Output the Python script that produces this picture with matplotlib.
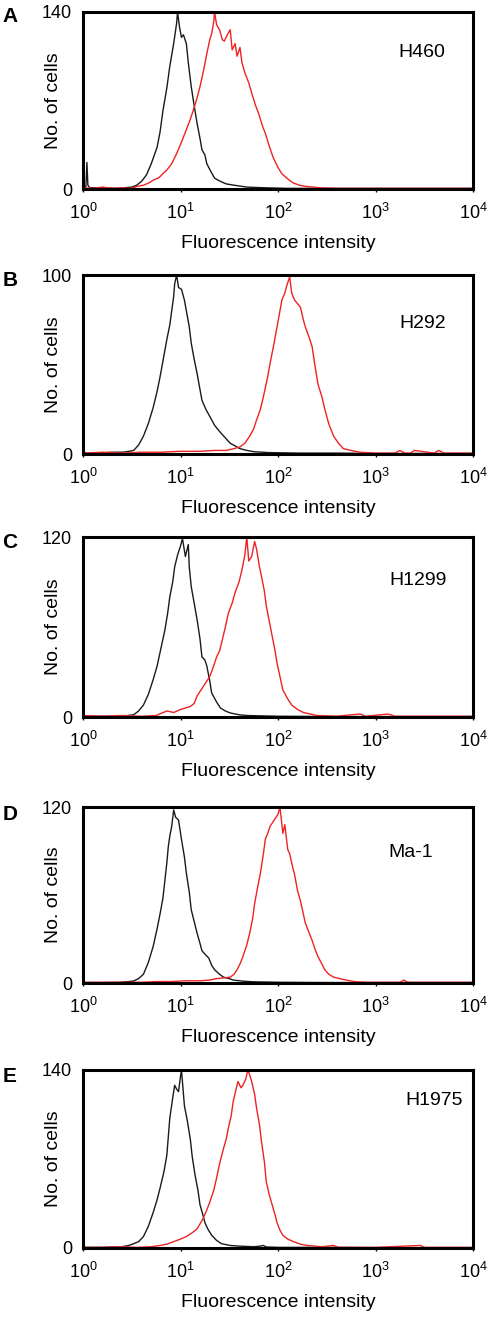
import numpy as np
from matplotlib import pyplot as plt

plt.rcParams['font.family'] = ['Liberation Sans', 'DejaVu Sans']
plt.rcParams['mathtext.fontset'] = 'custom'
plt.rcParams['mathtext.rm'] = 'Liberation Sans'
plt.rcParams['mathtext.it'] = 'Liberation Sans'

# panel info
letters = ['A', 'B', 'C', 'D', 'E']
cell_lines = ['H460', 'H292', 'H1299', 'Ma-1', 'H1975']
y_max = [140, 100, 120, 120, 140]
x_ticks = [1, 10, 100, 1000, 10000]
x_tick_labels = ['$10^{0}$', '$10^{1}$', '$10^{2}$', '$10^{3}$', '$10^{4}$']

# histograms: log10(intensity) and number of cells
# black = control, red = antibody
a_blk_log = [0.0, 0.03, 0.04, 0.05, 0.07, 0.2, 0.35, 0.5, 0.55, 0.6, 0.65, 0.7, 0.76, 0.79, 0.82,
             0.86, 0.89, 0.93, 0.96, 0.97, 0.99, 1.01, 1.03, 1.06, 1.08, 1.11, 1.14, 1.17, 1.2, 1.22,
             1.25, 1.27, 1.31, 1.35, 1.41, 1.47, 1.55, 1.68, 1.85, 2.1, 2.5, 3.0, 3.5, 4.0]
a_blk_cnt = [1, 2, 21, 3, 1, 1, 0.5, 1.5, 3, 6, 11, 20, 33, 45, 62,
             80, 97, 115, 131, 140, 128, 120, 122, 115, 100, 81, 66, 52, 40, 31,
             27, 20, 14, 8.5, 6, 4, 3, 1.5, 1, 0.5, 0.5, 0.5, 0.5, 0.5]
a_red_log = [0.0, 0.1, 0.2, 0.3, 0.4, 0.5, 0.55, 0.62, 0.68, 0.72, 0.78, 0.83, 0.86, 0.91, 0.96,
             1.01, 1.06, 1.1, 1.13, 1.17, 1.2, 1.24, 1.27, 1.3, 1.32, 1.34, 1.35, 1.37, 1.4, 1.43,
             1.45, 1.48, 1.51, 1.53, 1.56, 1.58, 1.61, 1.63, 1.66, 1.7, 1.73, 1.77, 1.8, 1.84, 1.87,
             1.91, 1.95, 2.0, 2.04, 2.1, 2.15, 2.22, 2.29, 2.36, 2.43, 2.6, 3.0, 3.5, 4.0]
a_red_cnt = [1, 0.5, 1.5, 0.5, 1, 0.5, 2, 3, 5, 7, 9, 13, 15, 20, 28,
             37, 47, 55, 62, 72, 81, 95, 107, 118, 123, 132, 140, 130, 126, 118,
             117, 122, 126, 110, 115, 105, 112, 100, 92, 84, 76, 66, 60, 50, 44,
             34, 25, 17, 12, 8, 5, 3, 2, 1.5, 1, 0.5, 0.5, 0.5, 0.5]

b_blk_log = [0.0, 0.15, 0.3, 0.41, 0.47, 0.52, 0.57, 0.62, 0.67, 0.72, 0.76, 0.79, 0.83, 0.86, 0.89,
             0.91, 0.93, 0.94, 0.96, 0.98, 1.01, 1.04, 1.06, 1.09, 1.11, 1.14, 1.17, 1.2, 1.22, 1.26,
             1.3, 1.35, 1.41, 1.46, 1.51, 1.56, 1.61, 1.68, 1.75, 1.9, 2.2, 2.6, 3.0, 3.5, 4.0]
b_blk_cnt = [0.5, 0.5, 1, 1, 1.5, 2, 5, 10, 17, 26, 35, 43, 55, 64, 72,
             80, 88, 95, 100, 93, 92, 86, 80, 71, 62, 53, 45, 36, 30, 25,
             21, 16, 12, 9, 6, 4.5, 3, 2, 1.3, 0.8, 0.5, 0.5, 0.3, 0.3, 0.3]
b_red_log = [0.0, 0.2, 0.4, 0.6, 0.8, 1.0, 1.2, 1.35, 1.47, 1.55, 1.61, 1.66, 1.71, 1.75, 1.78,
             1.82, 1.85, 1.89, 1.92, 1.96, 1.99, 2.02, 2.04, 2.07, 2.09, 2.12, 2.14, 2.17, 2.2, 2.23,
             2.26, 2.28, 2.32, 2.35, 2.38, 2.41, 2.45, 2.48, 2.52, 2.57, 2.62, 2.67, 2.75, 2.84, 3.0,
             3.2, 3.25, 3.3, 3.36, 3.4, 3.6, 3.65, 3.7, 4.0]
b_red_cnt = [0.5, 1, 0.5, 1, 1, 1.5, 1.5, 2, 2, 3, 4, 6, 10, 14, 19,
             25, 32, 42, 51, 62, 71, 80, 86, 90, 94, 99, 90, 86, 84, 82,
             75, 71, 65, 60, 49, 39, 32, 25, 17, 10, 6, 3, 2, 1, 0.5,
             0.5, 2, 0.5, 0.5, 2, 0.5, 2, 0.5, 0.5]

c_blk_log = [0.0, 0.2, 0.4, 0.52, 0.57, 0.62, 0.67, 0.72, 0.76, 0.79, 0.84, 0.87, 0.89, 0.92, 0.94,
             0.97, 1.0, 1.02, 1.05, 1.08, 1.09, 1.11, 1.14, 1.17, 1.2, 1.22, 1.25, 1.27, 1.3, 1.32,
             1.37, 1.41, 1.46, 1.51, 1.6, 1.68, 1.8, 2.0, 2.5, 3.0, 3.5, 4.0]
c_blk_cnt = [0.5, 0.5, 0.5, 1.5, 4, 8, 15, 25, 34, 43, 58, 70, 80, 90, 100,
             108, 114, 119, 107, 115, 100, 87, 76, 65, 52, 40, 38, 34, 24, 16,
             10, 6, 4, 2.7, 1.5, 1, 0.8, 0.5, 0.3, 0.3, 0.3, 0.3]
c_red_log = [0.0, 0.2, 0.4, 0.6, 0.75, 0.86, 0.93, 1.0, 1.05, 1.1, 1.14, 1.17, 1.2, 1.23, 1.27,
             1.3, 1.34, 1.37, 1.4, 1.42, 1.46, 1.49, 1.53, 1.56, 1.6, 1.63, 1.66, 1.68, 1.7, 1.73,
             1.76, 1.78, 1.81, 1.83, 1.86, 1.88, 1.91, 1.94, 1.97, 1.99, 2.02, 2.05, 2.1, 2.14, 2.2,
             2.26, 2.33, 2.4, 2.6, 2.84, 2.9, 3.13, 3.2, 3.5, 4.0]
c_red_cnt = [1, 0.5, 1, 0.5, 1, 4, 3, 5, 6, 7, 9, 14, 17, 20, 24,
             27, 34, 40, 44, 49, 60, 69, 76, 83, 90, 98, 108, 120, 104, 107,
             117, 112, 100, 94, 84, 74, 64, 54, 44, 36, 27, 18, 12, 8, 5,
             3, 2, 1, 0.5, 2, 0.5, 2, 0.5, 0.5, 0.5]

d_blk_log = [0.0, 0.2, 0.38, 0.47, 0.52, 0.57, 0.62, 0.67, 0.72, 0.76, 0.79, 0.82, 0.84, 0.86, 0.875,
             0.89, 0.91, 0.93, 0.95, 0.98, 1.01, 1.04, 1.06, 1.09, 1.11, 1.14, 1.17, 1.2, 1.22, 1.26,
             1.29, 1.32, 1.35, 1.4, 1.44, 1.5, 1.54, 1.65, 1.75, 2.0, 2.5, 3.0, 3.5, 4.0]
d_blk_cnt = [0.3, 0.3, 0.5, 1, 1.4, 3, 6, 14, 25, 37, 47, 58, 70, 82, 93,
             100, 107, 118, 113, 111, 98, 86, 75, 62, 50, 42, 34, 27, 22, 19,
             17, 12, 9, 6, 4, 3, 2, 1.2, 0.8, 0.5, 0.3, 0.3, 0.3, 0.3]
d_red_log = [0.0, 0.3, 0.6, 0.75, 0.9, 1.05, 1.2, 1.3, 1.37, 1.45, 1.51, 1.55, 1.58, 1.61, 1.64,
             1.68, 1.71, 1.74, 1.76, 1.79, 1.82, 1.85, 1.87, 1.9, 1.92, 1.95, 1.97, 2.0, 2.02, 2.05,
             2.07, 2.1, 2.12, 2.15, 2.17, 2.2, 2.23, 2.26, 2.28, 2.32, 2.35, 2.38, 2.41, 2.45, 2.48,
             2.52, 2.57, 2.63, 2.7, 2.78, 2.9, 3.25, 3.29, 3.33, 3.6, 4.0]
d_red_cnt = [0.5, 0.5, 0.5, 1, 1, 1.5, 1.5, 2, 3, 3.5, 4, 6, 9, 13, 18,
             26, 34, 44, 54, 65, 75, 88, 98, 103, 107, 110, 112, 115, 120, 102,
             108, 91, 88, 79, 74, 63, 56, 47, 41, 34, 29, 23, 18, 13, 9,
             6, 4, 3, 2, 1, 0.5, 0.5, 2, 0.5, 0.5, 0.5]

e_blk_log = [0.0, 0.2, 0.4, 0.47, 0.52, 0.57, 0.62, 0.67, 0.72, 0.76, 0.79, 0.83, 0.86, 0.89, 0.92,
             0.94, 0.96, 0.98, 1.0, 1.01, 1.04, 1.07, 1.1, 1.12, 1.15, 1.18, 1.2, 1.23, 1.25, 1.28,
             1.32, 1.37, 1.42, 1.51, 1.6, 1.75, 1.82, 1.85, 1.88, 2.0, 2.5, 3.0, 3.5, 4.0]
e_blk_cnt = [0.5, 0.5, 1, 2, 3.4, 5, 9, 17, 28, 38, 47, 60, 73, 102, 118,
             128, 125, 123, 135, 140, 112, 100, 86, 72, 57, 45, 34, 26, 20, 15,
             10, 6, 3.4, 2, 1.5, 1, 1.5, 2, 0.8, 0.5, 0.5, 0.3, 0.3, 0.3]
e_red_log = [0.0, 0.2, 0.4, 0.55, 0.7, 0.79, 0.86, 0.93, 1.0, 1.06, 1.12, 1.17, 1.2, 1.23, 1.27,
             1.3, 1.34, 1.37, 1.4, 1.44, 1.47, 1.49, 1.52, 1.54, 1.57, 1.59, 1.62, 1.64, 1.67, 1.69,
             1.71, 1.73, 1.76, 1.78, 1.81, 1.83, 1.86, 1.88, 1.91, 1.94, 1.97, 1.99, 2.02, 2.05, 2.1,
             2.16, 2.23, 2.3, 2.45, 2.57, 2.62, 3.0, 3.46, 3.5, 4.0]
e_red_cnt = [0.5, 0.5, 1, 0.5, 1, 2, 3, 5, 7, 9, 12, 15, 19, 23, 30,
             36, 45, 55, 66, 78, 86, 94, 104, 115, 125, 131, 126, 128, 133, 140,
             136, 131, 121, 110, 97, 84, 68, 52, 42, 34, 26, 20, 14, 10, 7,
             5, 3, 2, 1, 2, 0.5, 0.5, 2, 0.5, 0.5]

black_curves = [(a_blk_log, a_blk_cnt), (b_blk_log, b_blk_cnt), (c_blk_log, c_blk_cnt),
                (d_blk_log, d_blk_cnt), (e_blk_log, e_blk_cnt)]
red_curves = [(a_red_log, a_red_cnt), (b_red_log, b_red_cnt), (c_red_log, c_red_cnt),
              (d_red_log, d_red_cnt), (e_red_log, e_red_cnt)]

# axes placement in pixels (top, bottom) and label positions
W, H = 490, 1320
ax_rows = [(12, 189), (275, 454), (537, 717), (807, 983), (1070, 1248)]
letter_y = [16.5, 281, 543, 815, 1076.5]
label_pos = [(0.87, 0.77), (0.87, 0.73), (0.86, 0.76), (0.84, 0.74), (0.90, 0.83)]

fig = plt.figure(figsize=(W / 100, H / 100), dpi=100)

for i in range(5):
    top, bot = ax_rows[i]
    ax = fig.add_axes([83 / W, 1 - bot / H, 390 / W, (bot - top) / H])

    bx, by = black_curves[i]
    rx, ry = red_curves[i]
    ax.plot(10 ** np.array(bx), by, c='#1a1a1a', lw=1.0)
    ax.plot(10 ** np.array(rx), ry, c='#ee2222', lw=1.0)

    ax.set_xscale('log')
    ax.set_xlim(1, 10000)
    ax.set_ylim(0, y_max[i])
    ax.set_xticks(x_ticks)
    ax.set_xticklabels(x_tick_labels)
    ax.minorticks_off()
    ax.set_yticks([0, y_max[i]])
    ax.tick_params(axis='x', length=2, width=1, pad=8, labelsize=13)
    ax.tick_params(axis='y', length=0, pad=8, labelsize=13)
    for s in ax.spines.values():
        s.set_linewidth(2.2)

    ax.set_xlabel('Fluorescence intensity', fontsize=14, labelpad=9)
    ax.set_ylabel('No. of cells', fontsize=14)
    ax.yaxis.set_label_coords(-0.054, 0.5)
    ax.text(label_pos[i][0], label_pos[i][1], cell_lines[i], transform=ax.transAxes,
            fontsize=14, ha='center', va='center')

    fig.text(10 / W, 1 - letter_y[i] / H, letters[i], fontsize=15, fontweight='bold',
             ha='center', va='center')

fig.savefig('out.png', dpi=100)
